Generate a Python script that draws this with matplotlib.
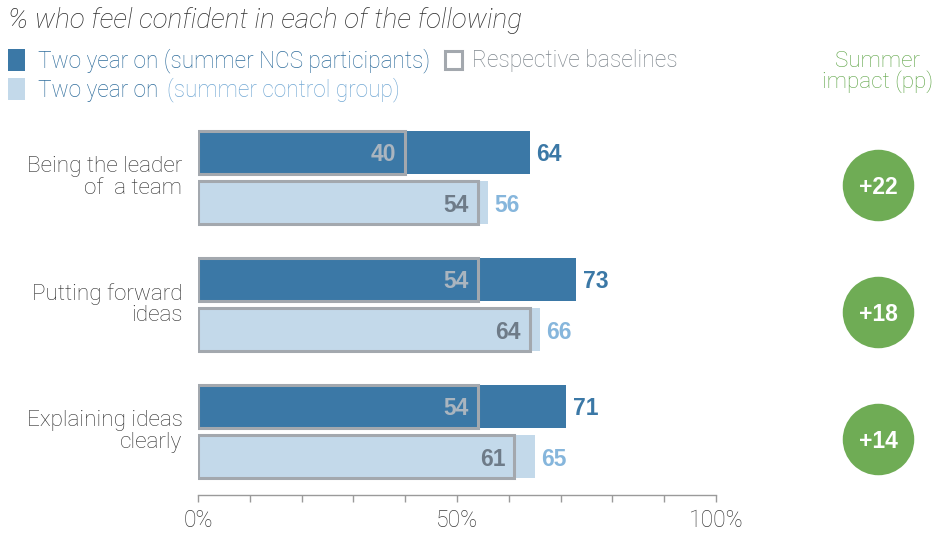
import matplotlib
matplotlib.use("Agg")
import matplotlib.pyplot as plt
from matplotlib.patches import Rectangle

plt.rcParams['font.family'] = ['Liberation Sans', 'DejaVu Sans']
THIN = dict(family=['Roboto', 'Liberation Sans'], weight='light')

# data
categories = ["Being the leader\nof  a team", "Putting forward\nideas", "Explaining ideas\nclearly"]
ncs_two_year = [64, 73, 71]
ncs_baseline = [40, 54, 54]
control_two_year = [56, 66, 65]
control_baseline = [54, 64, 61]
impact_pp = [22, 18, 14]
x_ticks = [0, 50, 100]
x_ticklabels = ["0%", "50%", "100%"]

# colours
DARK = "#3b78a6"
LIGHT = "#c3d9ea"
LIGHT_TXT = "#86b6dc"
BASE_EDGE = "#a3a8ae"
GREEN = "#6fac55"
GREY_TXT = "#2e2e2e"

W, H = 935, 534
fig = plt.figure(figsize=(W / 100, H / 100), dpi=100)

# main axes: x in percent, y in group units
ax = fig.add_axes([198 / W, 1 - 495 / H, 518 / W, 375 / H])
ax.set_xlim(0, 100)
ax.set_ylim(2.5, -0.4528)

ypos = list(range(len(categories)))
bh = 0.339
off = 0.197
y_ncs = [y - off for y in ypos]
y_ctl = [y + off for y in ypos]

ax.barh(y_ncs, ncs_two_year, height=bh, color=DARK, zorder=2)
ax.barh(y_ctl, control_two_year, height=bh, color=LIGHT, zorder=2)
# baselines as outlined boxes over the bars
ax.barh(y_ncs, ncs_baseline, height=bh, facecolor="none", edgecolor=BASE_EDGE, linewidth=2.2, zorder=3)
ax.barh(y_ctl, control_baseline, height=bh, facecolor="none", edgecolor=BASE_EDGE, linewidth=2.2, zorder=3)

for i in ypos:
    ax.text(ncs_two_year[i] + 1.3, y_ncs[i], str(ncs_two_year[i]), color=DARK,
            fontsize=16.5, fontweight="bold", va="center_baseline", ha="left")
    ax.text(control_two_year[i] + 1.3, y_ctl[i], str(control_two_year[i]), color=LIGHT_TXT,
            fontsize=16.5, fontweight="bold", va="center_baseline", ha="left")
    ax.text(ncs_baseline[i] - 1.7, y_ncs[i], str(ncs_baseline[i]), color="#aab5bf",
            fontsize=16.5, fontweight="bold", va="center_baseline", ha="right", zorder=4)
    ax.text(control_baseline[i] - 1.7, y_ctl[i], str(control_baseline[i]), color="#6e7b88",
            fontsize=16.5, fontweight="bold", va="center_baseline", ha="right", zorder=4)
    ax.text(-3, ypos[i], categories[i], color=GREY_TXT, fontsize=16.2,
            ha="right", va="center", linespacing=1.02, **THIN)

# summer impact bubbles
ax.scatter([131.3] * len(ypos), [y + 0.06 for y in ypos], s=2650, color=GREEN,
           clip_on=False, zorder=3, linewidths=0)
for i in ypos:
    ax.text(131.3, ypos[i] + 0.06, f"+{impact_pp[i]}", color="white", fontsize=16.5,
            fontweight="bold", ha="center", va="center_baseline", zorder=4, clip_on=False)

# axis styling
for s in ["top", "right", "left"]:
    ax.spines[s].set_visible(False)
ax.spines["bottom"].set_color("#9a9a9a")
ax.spines["bottom"].set_linewidth(1.0)
ax.set_yticks([])
ax.set_xticks(range(0, 101, 10), minor=True)
ax.set_xticks(x_ticks)
ax.set_xticklabels(x_ticklabels, **THIN)
ax.tick_params(axis="x", which="both", length=5, width=1, color="#9a9a9a",
               labelsize=16.5, labelcolor="#3c3c3c", pad=5)

# title and legend
fig.text(8 / W, 1 - 20 / H, "% who feel confident in each of the following", fontsize=20,
         style="italic", color=GREY_TXT, va="center", ha="left", **THIN)

fig.add_artist(Rectangle((8 / W, 1 - 71 / H), 17 / W, 22 / H, transform=fig.transFigure,
                         facecolor=DARK, edgecolor="none"))
fig.text(38 / W, 1 - 61 / H, "Two year on (summer NCS participants)", fontsize=16.3,
         color="#2f6d9c", va="center", ha="left", **THIN)
fig.add_artist(Rectangle((445 / W, 1 - 69 / H), 17 / W, 18 / H, transform=fig.transFigure,
                         facecolor="none", edgecolor=BASE_EDGE, linewidth=2.2))
fig.text(472 / W, 1 - 61 / H, "Respective baselines", fontsize=16.5,
         color="#7d858c", va="center", ha="left", **THIN)

fig.add_artist(Rectangle((8 / W, 1 - 100 / H), 17 / W, 22 / H, transform=fig.transFigure,
                         facecolor=LIGHT, edgecolor="none"))
fig.text(38 / W, 1 - 90 / H, "Two year on", fontsize=16.3, color="#2f6d9c", va="center",
         ha="left", **THIN)
fig.text(167 / W, 1 - 90 / H, "(summer control group)", fontsize=16.3, color="#72a8d4",
         va="center", ha="left", **THIN)

fig.text(878 / W, 1 - 72 / H, "Summer\nimpact (pp)", fontsize=16.2, color="#5fa547",
         ha="center", va="center", linespacing=0.95, **THIN)

fig.savefig("out.png", dpi=100)
